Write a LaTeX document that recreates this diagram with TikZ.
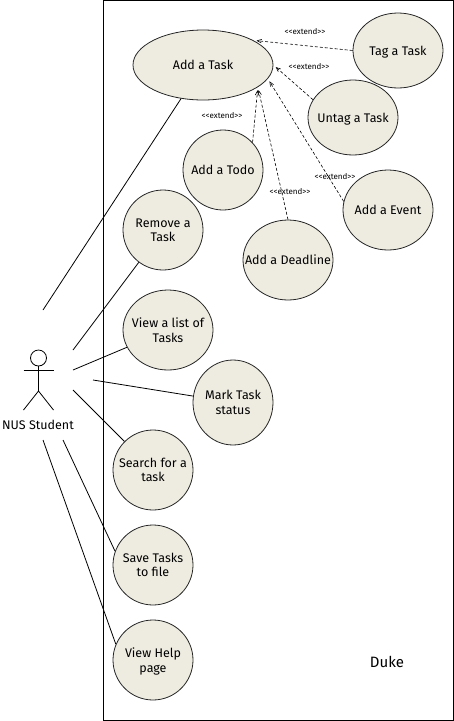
\documentclass[tikz,border=0pt]{standalone}
\usepackage{fontspec}
\setmainfont{Fira Sans}
\usepackage{xcolor}
\usetikzlibrary{shapes.geometric, arrows}
\definecolor{casefill}{HTML}{EEECE1}
\begin{document}
\begin{tikzpicture}[
		    x=1pt, y=-1pt,
		    every node/.style={inner sep=0pt, font=\fontsize{12.5}{14.5}\selectfont, align=center},
		    line width=0.8pt
		]
		\tikzset{
		    caso/.style={draw=black!85, fill=casefill, ellipse, inner xsep=-20pt, text depth=-6pt, minimum width=80pt, minimum height=80pt},
		    casolargo/.style={caso, minimum width=90pt},
		    rotulo/.style={font=\fontsize{8}{9}\selectfont},
		    estende/.style={densely dashed, line width=0.6pt, ->, >=angle 45, shorten >=3pt}
		}
		\useasboundingbox (0,0) rectangle (454,721);
		% sistema
		\draw[line width=1pt] (103,0.5) rectangle (453.5,720);
		\node[font=\fontsize{15}{17}\selectfont] (duke) at (387,662) {Duke};
		% casos de uso
		\node[caso, minimum width=140pt, minimum height=70pt] (addtask) at (203,65) {Add a Task};
		\node[casolargo, minimum height=75pt] (tag) at (398,50.5) {Tag a Task};
		\node[casolargo, minimum height=75pt] (untag) at (353,117.5) {Untag a Task};
		\node[caso] (todo) at (223,170) {Add a Todo};
		\node[casolargo] (event) at (388,210) {Add a Event};
		\node[casolargo] (deadline) at (288,260) {Add a Deadline};
		\node[caso] (remove) at (163,230) {Remove a\\Task};
		\node[casolargo] (viewlist) at (168,330) {View a list of\\Tasks};
		\node[caso, minimum height=85pt] (mark) at (233,402.5) {Mark Task\\status};
		\node[caso] (search) at (153,470) {Search for a\\task};
		\node[caso] (save) at (153,565) {Save Tasks\\to file};
		\node[caso] (help) at (153,660) {View Help\\page};
		% ator
		\node[draw, circle, minimum size=16pt] (cabeca) at (38.5,358) {};
		\coordinate (quadril) at (38.5,391);
		\draw (cabeca) -- (quadril);
		\draw (23.5,370) -- (53.5,370);
		\draw (23.5,410) -- (quadril) -- (53.5,410);
		\node (student) at (38,425) {NUS Student};
		% pontos livres junto ao ator
		\coordinate (a1) at (43,310);
		\coordinate (a2) at (73,350);
		\coordinate (a3) at (73,370);
		\coordinate (a4) at (93,380);
		\coordinate (a5) at (73,390);
		\coordinate (a6) at (63,440);
		\coordinate (a7) at (43,440);
		\draw (a1) -- (addtask);
		\draw (a2) -- (remove);
		\draw (a3) -- (viewlist);
		\draw (a4) -- (mark);
		\draw (a5) -- (search);
		\draw (a6) -- (save.160);
		\draw (a7) -- (help.157);
		% extensoes
		\draw[estende] (tag.west) -- (addtask.26);
		\draw[estende] (untag.156) -- (addtask.east);
		\draw[estende] (event.169) -- (addtask.-12);
		\draw[estende] (todo.43) -- (addtask.-22);
		\draw[estende] (deadline.north) -- (addtask.-22);
		\node[rotulo] (ltag) at (305,32) {<{}<extend>{}>};
		\node[rotulo] (luntag) at (309,67) {<{}<extend>{}>};
		\node[rotulo] (ltodo) at (222,116) {<{}<extend>{}>};
		\node[rotulo] (ldeadline) at (290,192) {<{}<extend>{}>};
		\node[rotulo] (levent) at (335,177) {<{}<extend>{}>};
		\end{tikzpicture}
\end{document}
